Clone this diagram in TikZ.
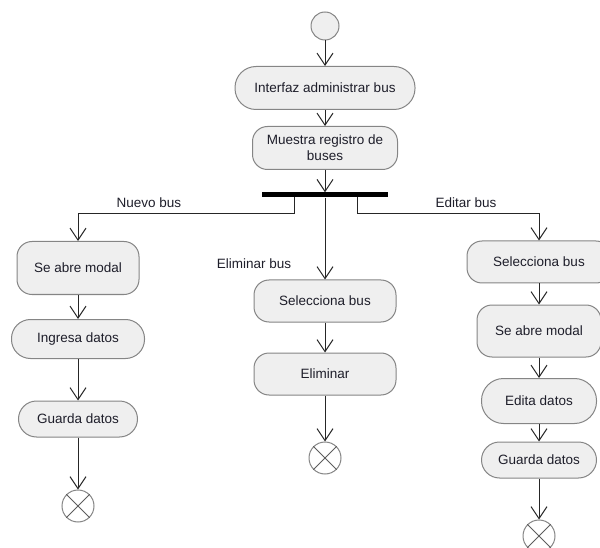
\documentclass[tikz,border=0pt]{standalone}
\usepackage{fontspec}
\setmainfont{Liberation Sans}
\usetikzlibrary{arrows.meta}
\definecolor{actfill}{HTML}{EFEFEF}
\definecolor{actline}{HTML}{858585}
\definecolor{txt}{HTML}{1E1E2A}
\begin{document}
\begin{tikzpicture}[x=1pt,y=-1pt,
  every node/.style={font=\fontsize{13.5}{16}\selectfont, text=txt},
  action/.style={draw=actline, fill=actfill, line width=1pt, rectangle,
    inner sep=0pt, align=center},
  initial/.style={draw=actline, fill=actfill, line width=1pt, circle,
    minimum size=28pt, inner sep=0pt},
  final/.style={draw=actline, fill=white, line width=1pt, circle,
    minimum size=32pt, inner sep=0pt},
  flow/.style={draw=black!85, line width=1pt,
    -{Straight Barb[length=12pt,width=16pt,line width=1pt]}},
  guard/.style={anchor=base, inner sep=0pt}
]
\useasboundingbox (0,0) rectangle (600,548);
\clip (0,0) rectangle (600,548);

% top part
\node[initial] (start) at (325,26) {};
\node[action, minimum width=180pt, minimum height=43pt, rounded corners=21pt]
  (ia) at (325,88) {Interfaz administrar bus};
\node[action, minimum width=145pt, minimum height=43pt, rounded corners=15pt]
  (mr) at (325,148) {Muestra registro de\\buses};
\node[fill=black, minimum width=126pt, minimum height=5pt, inner sep=0pt]
  (bar) at (325,195) {};

% left branch
\node[action, minimum width=122pt, minimum height=53pt, rounded corners=15pt]
  (l1) at (78,268) {Se abre modal};
\node[action, minimum width=133pt, minimum height=39pt, rounded corners=19pt]
  (l2) at (78,339) {Ingresa datos};
\node[action, minimum width=119pt, minimum height=36pt, rounded corners=18pt]
  (l3) at (78,419) {Guarda datos};
\node[final] (lend) at (78,506) {};

% middle branch
\node[action, minimum width=142pt, minimum height=42pt, rounded corners=15pt]
  (m1) at (325,301) {Selecciona bus};
\node[action, minimum width=142pt, minimum height=42pt, rounded corners=15pt]
  (m2) at (325,374) {Eliminar};
\node[final] (mend) at (325,458) {};

% right branch
\node[action, minimum width=144pt, minimum height=42pt, rounded corners=15pt]
  (r1) at (539,262) {Selecciona bus};
\node[action, minimum width=124pt, minimum height=52pt, rounded corners=15pt]
  (r2) at (539,331) {Se abre modal};
\node[action, minimum width=115pt, minimum height=45pt, rounded corners=22pt]
  (r3) at (539,401) {Edita datos};
\node[action, minimum width=115pt, minimum height=36pt, rounded corners=18pt]
  (r4) at (539,460) {Guarda datos};
\node[final] (rend) at (539,536) {};

% crosses of the final nodes
\foreach \f in {lend,mend,rend}{
  \draw[actline!70!black, line width=1pt]
    (\f.north east) -- (\f.south west)
    (\f.north west) -- (\f.south east);
}

% fork outputs
\coordinate (fl) at (294,197);
\coordinate (fr) at (357,197);

% flows
\draw[flow] (start) -- (ia);
\draw[flow] (ia) -- (mr);
\draw[flow] (mr) -- (bar);
\draw[flow] (fl) -- (fl |- 0,214) -| (l1);
\draw[flow] (bar) -- (m1);
\draw[flow] (fr) -- (fr |- 0,214) -| (r1);

\draw[flow] (l1) -- (l2);
\draw[flow] (l2) -- (l3);
\draw[flow] (l3) -- (lend);

\draw[flow] (m1) -- (m2);
\draw[flow] (m2) -- (mend);

\draw[flow] (r1) -- (r2);
\draw[flow] (r2) -- (r3);
\draw[flow] (r3) -- (r4);
\draw[flow] (r4) -- (rend);

% guard labels
\node[guard] (gn) at (149,208) {Nuevo bus};
\node[guard] (ge) at (466,208) {Editar bus};
\node[guard] (gd) at (254,269) {Eliminar bus};
\end{tikzpicture}
\end{document}
